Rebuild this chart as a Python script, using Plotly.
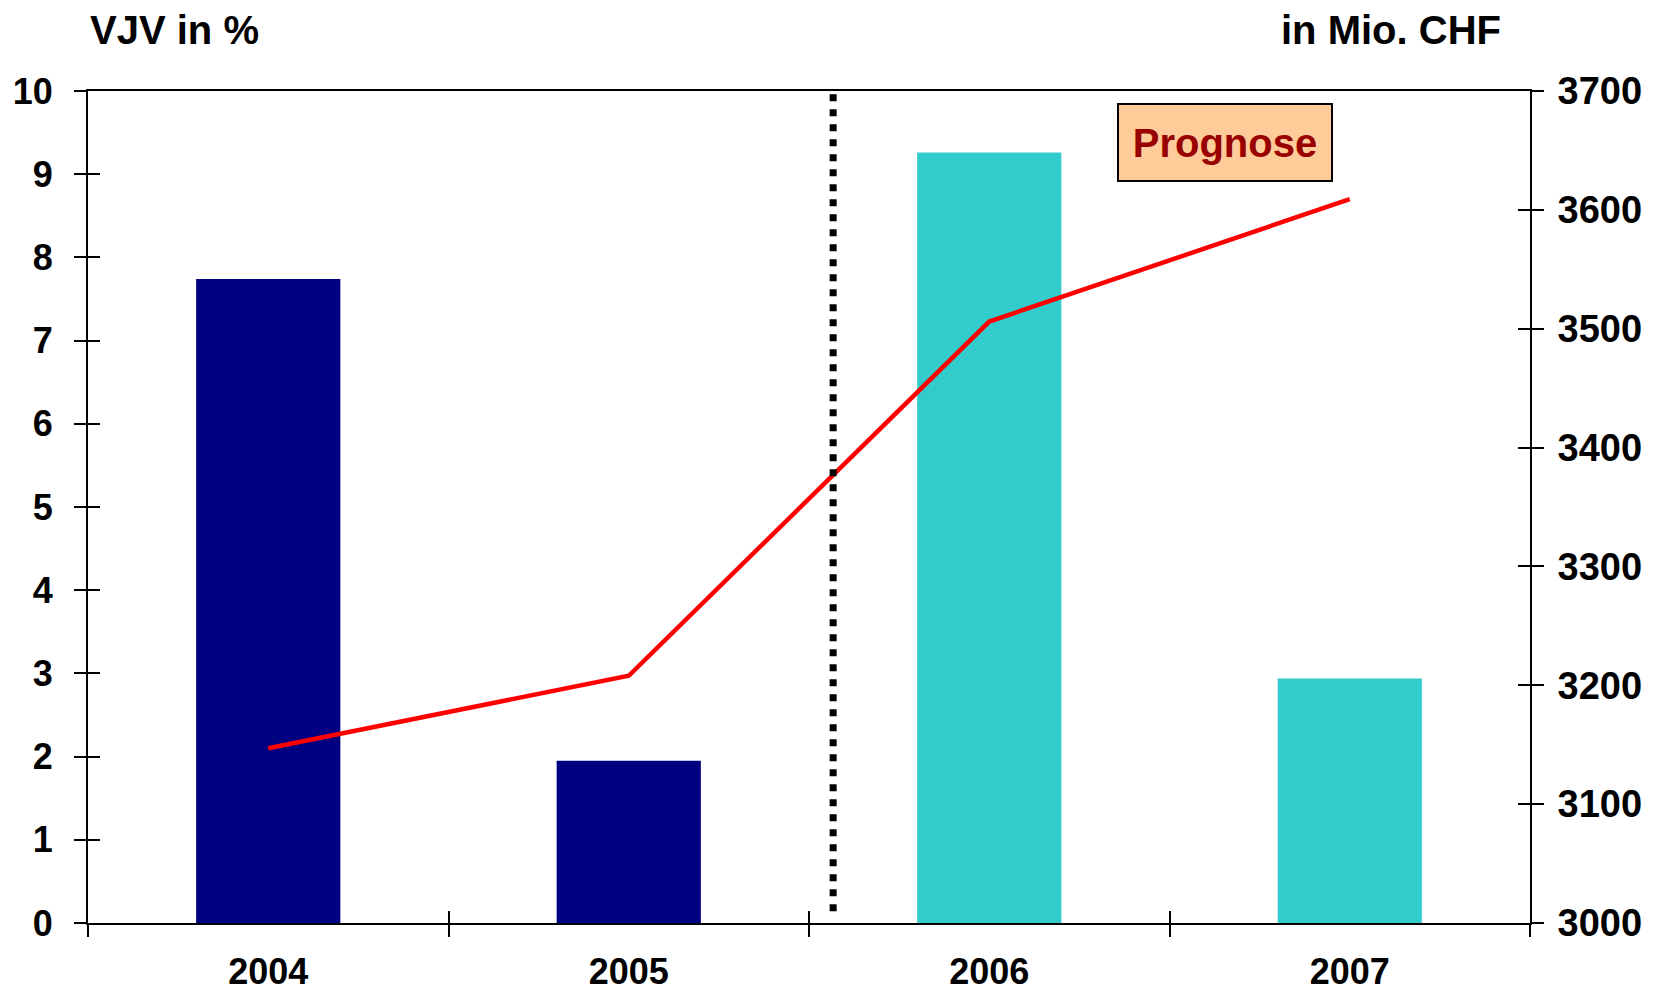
import plotly.graph_objects as go

years = ["2004", "2005", "2006", "2007"]
vjv_pct = [7.74, 1.95, 9.26, 2.94]
mio_chf = [3147, 3208, 3506, 3609]
bar_colors = ["#000080", "#000080", "#33CCCC", "#33CCCC"]
left_ticks = list(range(0, 11))
right_ticks = list(range(3000, 3701, 100))
boundaries = [-0.5, 0.5, 1.5, 2.5, 3.5]

FONT = "Liberation Sans, Arial, sans-serif"
tickfont = dict(family=FONT, size=36, color="black", weight="bold")

fig = go.Figure()
fig.add_trace(go.Bar(x=years, y=vjv_pct, marker=dict(color=bar_colors, line=dict(width=0)),
                     width=0.4, xaxis="x", yaxis="y", showlegend=False, hoverinfo="skip"))
fig.add_trace(go.Scatter(x=years, y=mio_chf, mode="lines", line=dict(color="#FF0000", width=4.5),
                         xaxis="x", yaxis="y2", showlegend=False, hoverinfo="skip"))
# empty helper traces so the inner-tick overlay axes are rendered
fig.add_trace(go.Scatter(x=[None], y=[None], mode="lines", xaxis="x2", yaxis="y3",
                         showlegend=False, hoverinfo="skip"))
fig.add_trace(go.Scatter(x=[None], y=[None], mode="lines", xaxis="x2", yaxis="y4",
                         showlegend=False, hoverinfo="skip"))

axis_common = dict(showgrid=False, zeroline=False, linecolor="black", tickcolor="black",
                   automargin=False)

fig.update_layout(
    plot_bgcolor="white", paper_bgcolor="white",
    margin=dict(l=88, r=141, t=91, b=69),
    xaxis=dict(type="category", categoryorder="array", categoryarray=years, range=[-0.5, 3.5],
               tickson="boundaries", ticks="outside", ticklen=12, tickwidth=1.5,
               showline=True, linewidth=2, mirror=True, tickfont=dict(tickfont, size=36),
               ticklabelstandoff=16, **axis_common),
    xaxis2=dict(overlaying="x", anchor="y", range=[-0.5, 3.5], tickmode="array", tickvals=boundaries,
                ticks="inside", ticklen=12, tickwidth=1.5, showticklabels=False, showline=False,
                **axis_common),
    yaxis=dict(range=[0, 10], tickmode="array", tickvals=left_ticks, ticks="outside", ticklen=12,
               tickwidth=1.5, showline=True, linewidth=2, tickfont=tickfont, ticklabelstandoff=14,
               **axis_common),
    yaxis3=dict(overlaying="y", side="left", anchor="x", range=[0, 10], tickmode="array",
                tickvals=left_ticks, ticks="inside", ticklen=12, tickwidth=1.5,
                showticklabels=False, showline=False, **axis_common),
    yaxis2=dict(overlaying="y", side="right", anchor="x", range=[3000, 3700], tickmode="array",
                tickvals=right_ticks, ticks="outside", ticklen=12, tickwidth=1.5, showline=True,
                linewidth=2, tickfont=dict(tickfont, size=38), ticklabelstandoff=6, **axis_common),
    yaxis4=dict(overlaying="y", side="right", anchor="x", range=[3000, 3700], tickmode="array",
                tickvals=right_ticks, ticks="inside", ticklen=12, tickwidth=1.5,
                showticklabels=False, showline=False, **axis_common),
    shapes=[dict(type="line", xref="x", yref="y", x0=1.567, x1=1.567, y0=0.14, y1=10,
                 line=dict(color="black", width=7, dash="7px,8px"))],
    annotations=[
        dict(text="VJV in %", xref="paper", yref="paper", x=0.0, y=1.0, xanchor="left",
             yanchor="bottom", yshift=37, showarrow=False,
             font=dict(family=FONT, size=40, color="black", weight="bold")),
        dict(text="in Mio. CHF", xref="paper", yref="paper", x=0.981, y=1.0, xanchor="right",
             yanchor="bottom", yshift=37, showarrow=False,
             font=dict(family=FONT, size=40, color="black", weight="bold")),
        dict(text="Prognose", xref="paper", yref="paper", x=0.7885, y=0.9377, xanchor="center",
             yanchor="middle", showarrow=False, bgcolor="#FFCC99", bordercolor="black",
             borderwidth=2, borderpad=0, width=212, height=75,
             font=dict(family=FONT, size=40, color="#990000", weight="bold")),
    ],
)

fig.write_html(
    "out.html",
    config={"displayModeBar": False},
    post_script=(
        "document.body.style.margin='0';"
        "document.documentElement.style.overflow='hidden';"
        "Plotly.Plots.resize(document.getElementById('{plot_id}'));"
    ),
)
